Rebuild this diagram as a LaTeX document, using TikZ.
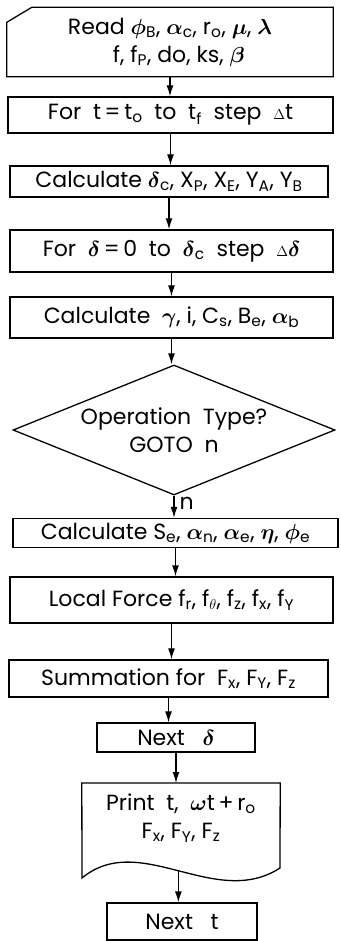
\documentclass[tikz,border=0pt]{standalone}
\usepackage{fontspec}
\usepackage{graphicx}
\setmainfont{Poppins}
\usetikzlibrary{calc,positioning,shapes.geometric,arrows.meta}
\newcommand{\lo}[1]{\textsubscript{#1}}
\newcommand{\gr}[1]{\scalebox{1.05}{$\boldsymbol{#1}$}}
\usepackage{amsmath}

\begin{document}
\begin{tikzpicture}[x=1pt,y=-1pt,>={Latex[length=11pt,width=7pt]},
  font=\fontsize{22}{28}\selectfont]
  \tikzset{
    procbox/.style={draw, line width=1.3pt, inner sep=0pt, align=center},
    decision/.style={draw, diamond, aspect=2.48, line width=1.3pt,
      inner sep=0pt, align=center},
    flow/.style={->, line width=1.3pt},
  }
  \useasboundingbox (0,0) rectangle (340,941);

  % input card
  \node[minimum width=326pt, minimum height=69pt, align=center] (read) at (170,42)
    {Read \gr{\phi}\lo{B}, \gr{\alpha}\lo{c}, r\lo{o}, \gr{\mu}, \gr{\lambda}\\
     \ \ \ f, f\lo{P}, do, ks, \gr{\beta}};
  \draw[line width=1.3pt] ($(read.north west)+(0,15)$) -- ($(read.north west)+(25,0)$)
    -- (read.north east) -- (read.south east) -- (read.south west) -- cycle;

  \node[procbox, minimum width=325pt, minimum height=36pt] (fort) at (170.5,115)
    {For\ \ t\,=\,t\lo{o}\ \ to\ \ t\lo{f}\ \ step\ \ {$\scriptstyle\Delta$}t};
  \node[procbox, minimum width=318pt, minimum height=31pt] (calcd) at (169,181.5)
    {Calculate\ \gr{\delta}\lo{c}, X\lo{P}, X\lo{E}, Y\lo{A}, Y\lo{B}};
  \node[procbox, minimum width=323pt, minimum height=42pt] (ford) at (171.5,251)
    {For\ \ \gr{\delta}\,=\,0\ \ to\ \ \gr{\delta}\lo{c}\ \ step\ \ {$\scriptstyle\Delta$}\gr{\delta}};
  \node[procbox, minimum width=323pt, minimum height=41pt] (calcg) at (171.5,317.5)
    {Calculate\ \ \gr{\gamma}, i, C\lo{s}, B\lo{e}, \gr{\alpha}\lo{b}};
  \node[decision, minimum width=322pt, minimum height=130pt] (optype) at (174,430)
    {Operation\ \ Type?\\GOTO\ \ n};
  \node[procbox, minimum width=325pt, minimum height=29pt] (calcs) at (175.5,533)
    {Calculate\ S\lo{e}, \gr{\alpha}\lo{n}, \gr{\alpha}\lo{e}, \gr{\eta}, \gr{\phi}\lo{e}};
  \node[procbox, minimum width=323pt, minimum height=46pt] (local) at (171.5,600)
    {Local\ Force\ f\lo{r}, f\lo{$\theta$}, f\lo{z}, f\lo{x}, f\lo{Y}};
  \node[procbox, minimum width=319pt, minimum height=37pt] (summ) at (168.5,678.5)
    {Summation\ for\ \ F\lo{x}, F\lo{Y}, F\lo{z}};
  \node[procbox, minimum width=158pt, minimum height=29pt] (nextd) at (176,737.5)
    {Next\ \ \ \gr{\delta}};

  % printed document
  \node[minimum width=198pt, minimum height=70pt, align=center, anchor=north] (print)
    at (181,783) {Print\ \ t,\ \ \gr{\omega}t\,+\,r\lo{o}\\F\lo{x}, F\lo{Y}, F\lo{z}};
  \draw[line width=1.3pt] (print.north west) -- (print.north east) -- (280,868)
    .. controls (215,910) and (140,830) .. (82,878) coordinate[pos=0.5] (wave)
    -- cycle;

  \node[procbox, minimum width=150pt, minimum height=37pt] (nextt) at (182,921.5)
    {Next\ \ \ t};

  \foreach \a/\b in {read/fort, fort/calcd, calcd/ford, ford/calcg, calcg/optype,
    calcs/local, local/summ, summ/nextd, nextd/print}
    \draw[flow] (\a.south) -- (\a.south |- \b.north);
  \draw[flow] (optype.south) -- node[right, xshift=4pt, yshift=3pt, inner sep=1pt] (nlabel) {n}
    (optype.south |- calcs.north);
  \draw[flow] (wave) -- (wave |- nextt.north);
\end{tikzpicture}
\end{document}
